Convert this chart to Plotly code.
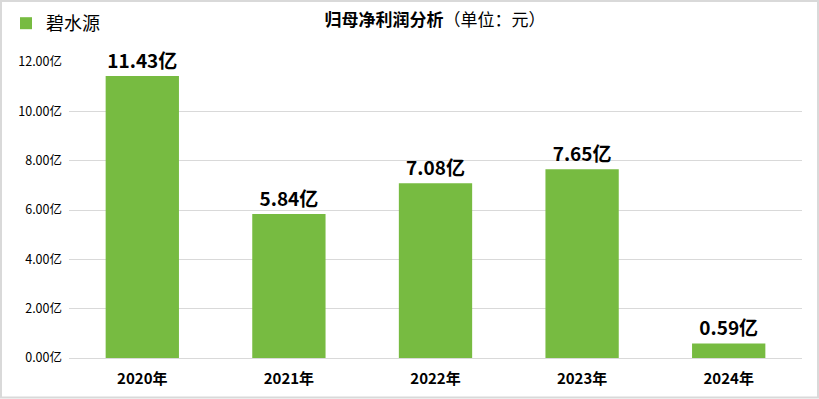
import plotly.graph_objects as go

categories = ["2020年", "2021年", "2022年", "2023年", "2024年"]
values = [11.43, 5.84, 7.08, 7.65, 0.59]
series_name = "碧水源"
tick_vals = [0, 2, 4, 6, 8, 10, 12]
tick_text = ["0.00亿", "2.00亿", "4.00亿", "6.00亿", "8.00亿", "10.00亿", "12.00亿"]
labels = [f"{v:.2f}亿" for v in values]

FONT = "Microsoft YaHei, Noto Sans CJK SC, sans-serif"
GREEN = "#77bb41"

fig = go.Figure()
fig.add_trace(go.Bar(
    x=categories, y=values, name=series_name,
    marker=dict(color=GREEN, line=dict(width=0)),
    text=labels, textposition="outside", cliponaxis=False,
    texttemplate="<b>%{text}</b>",
    textfont=dict(size=19, color="#000000", family=FONT),
    showlegend=True,
))

W, H = 819, 399
ml, mr, mt, mb = 69, 17, 62, 41
pw, ph = W - ml - mr, H - mt - mb

def px_to_paper_x(px):
    return (px - ml) / pw

def px_to_paper_y(py):
    return (H - mb - py) / ph

fig.update_layout(
    width=W, height=H,
    margin=dict(l=ml, r=mr, t=mt, b=mb, autoexpand=False),
    paper_bgcolor="white", plot_bgcolor="white",
    font=dict(family=FONT, color="#000000"),
    bargap=0.5,
    title=dict(
        text="<b>归母净利润分析</b>（单位：元）",
        x=435 / W, xanchor="center", y=1 - 20 / H, yanchor="middle",
        font=dict(size=17, color="#000000", family=FONT),
    ),
    showlegend=True,
    legend=dict(
        x=px_to_paper_x(6), y=px_to_paper_y(5), xanchor="left", yanchor="top",
        font=dict(size=18, color="#000000", family=FONT),
        bgcolor="rgba(0,0,0,0)", itemwidth=30,
    ),
    xaxis=dict(
        showgrid=False, showline=False, ticks="",
        tickfont=dict(size=15, color="#000000", family=FONT),
        tickprefix="<b>", ticksuffix="</b>",
        ticklabelstandoff=10,
    ),
    yaxis=dict(
        range=[0, 12], tickvals=tick_vals, ticktext=tick_text,
        showgrid=True, gridcolor="#d9d9d9", gridwidth=1,
        zeroline=True, zerolinecolor="#d9d9d9", zerolinewidth=1,
        showline=False, ticks="",
        tickfont=dict(size=12.5, color="#000000", family=FONT),
        ticklabelstandoff=6,
    ),
    shapes=[dict(
        type="rect", xref="paper", yref="paper",
        x0=px_to_paper_x(1), x1=px_to_paper_x(818),
        y0=px_to_paper_y(397.5), y1=px_to_paper_y(1),
        line=dict(color="#d9d9d9", width=2), fillcolor="rgba(0,0,0,0)",
        layer="above",
    )],
)

fig.write_html(
    "out.html",
    config={"displayModeBar": False},
    post_script="document.body.style.margin='0';document.body.style.overflow='hidden';",
)
